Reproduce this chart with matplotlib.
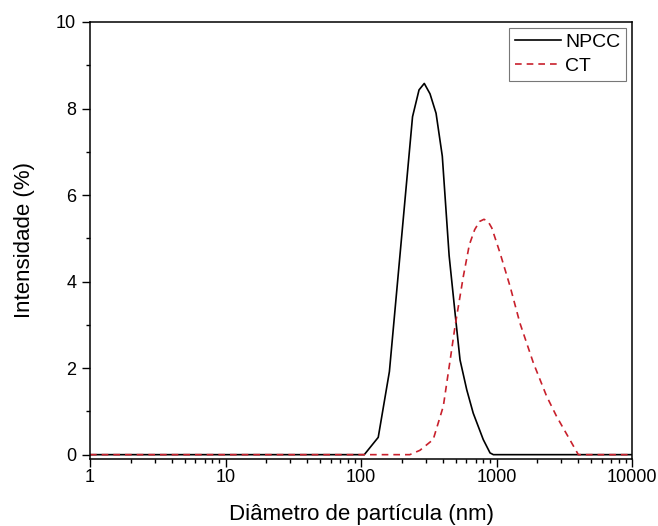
import matplotlib
matplotlib.use("Agg")
import matplotlib.pyplot as plt
from matplotlib.ticker import LogLocator, NullFormatter, MultipleLocator, FixedLocator

plt.rcParams["font.family"] = ["Liberation Sans", "DejaVu Sans"]

# Particle size distributions (diameter in nm, intensity in %)
npcc_diam = [1, 105.7, 134, 162, 197, 240, 268, 293, 323, 358, 398, 447, 501, 538,
             603, 673, 798, 896, 948, 10000]
npcc_int = [0, 0, 0.40, 1.92, 4.85, 7.81, 8.43, 8.58, 8.34, 7.89, 6.9, 4.6, 3.1, 2.19,
            1.5, 0.96, 0.35, 0.04, 0, 0]

ct_diam = [1, 229, 272, 341, 405, 459, 494, 569, 630, 690, 750, 809, 870, 923, 1062,
           1259, 1489, 1871, 2344, 2780, 4018, 10000]
ct_int = [0, 0, 0.10, 0.35, 1.12, 2.27, 2.96, 4.12, 4.85, 5.2, 5.39, 5.44, 5.38, 5.24,
          4.66, 3.89, 3.04, 2.12, 1.35, 0.88, 0, 0]

x_ticks = [1, 10, 100, 1000, 10000]
x_labels = ["1", "10", "100", "1000", "10000"]
y_ticks = [0, 2, 4, 6, 8, 10]

fig = plt.figure(figsize=(6.58, 5.26), dpi=100)
ax = fig.add_axes([0.1368, 0.1274, 0.8237, 0.8308])

ax.plot(npcc_diam, npcc_int, color="black", lw=1.2, label="NPCC")
ax.plot(ct_diam, ct_int, color="#c8202c", lw=1.2, ls=(0, (4, 3)), label="CT")

ax.set_xscale("log")
ax.set_xlim(1, 10000)
ax.set_ylim(-0.1, 10)

ax.xaxis.set_major_locator(FixedLocator(x_ticks))
ax.set_xticklabels(x_labels)
ax.xaxis.set_minor_locator(LogLocator(base=10, subs=range(2, 10), numticks=20))
ax.xaxis.set_minor_formatter(NullFormatter())
ax.yaxis.set_major_locator(FixedLocator(y_ticks))
ax.yaxis.set_minor_locator(MultipleLocator(1))

ax.tick_params(which="both", direction="out", top=False, right=False,
               labelsize=13, width=1.0)
ax.tick_params(axis="x", which="major", length=6, pad=1.5)
ax.tick_params(axis="y", which="major", length=6, pad=4)
ax.tick_params(which="minor", length=3)
for sp in ax.spines.values():
    sp.set_linewidth(1.1)

ax.set_xlabel("Diâmetro de partícula (nm)", fontsize=16, labelpad=13)
ax.set_ylabel("Intensidade (%)", fontsize=16, labelpad=15)

leg = ax.legend(loc="upper right", fontsize=14, frameon=True, fancybox=False,
                edgecolor="#555555", handlelength=2.4, handletextpad=0.2,
                borderpad=0.3, labelspacing=0.3, borderaxespad=0.3)
leg.get_frame().set_linewidth(0.8)

fig.savefig("out.png", dpi=100)
